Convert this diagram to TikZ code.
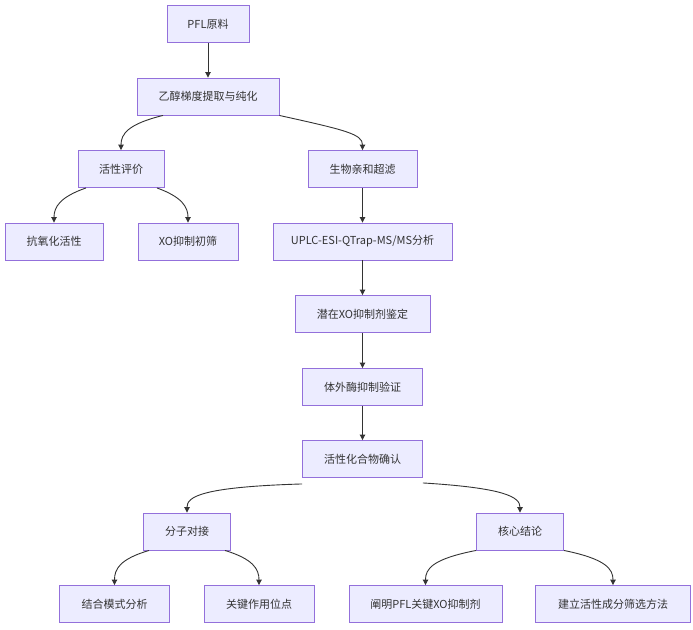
\documentclass[tikz,border=0pt]{standalone}
\usepackage{fontspec}
\setmainfont{Noto Sans CJK SC}
\usetikzlibrary{arrows.meta}
\definecolor{boxfill}{HTML}{ECECFF}
\definecolor{boxline}{HTML}{9370DB}
\definecolor{edgeline}{HTML}{333333}
\tikzset{
  stepbox/.style={draw=boxline,fill=boxfill,line width=0.9pt,inner sep=0pt,
    minimum height=37pt,font=\fontsize{11}{13}\selectfont,text=edgeline},
  flow/.style={edgeline,line width=0.9pt,-{Triangle[length=5.5pt,width=5.5pt]}}
}
\begin{document}
\begin{tikzpicture}[x=1pt,y=-1pt]
\useasboundingbox (0,0) rectangle (693,629);
\node [stepbox,minimum width=82pt] (raw) at (208,24) {PFL原料};
\node [stepbox,minimum width=142pt] (ext) at (208,96.5) {乙醇梯度提取与纯化};
\node [stepbox,minimum width=86pt] (evalb) at (121,169) {活性评价};
\node [stepbox,minimum width=109pt] (ultra) at (362.5,169) {生物亲和超滤};
\node [stepbox,minimum width=98pt] (anti) at (54,241.5) {抗氧化活性};
\node [stepbox,minimum width=100pt] (xoscr) at (188,241.5) {XO抑制初筛};
\node [stepbox,minimum width=179pt] (uplc) at (362.5,241.5) {UPLC-ESI-QTrap-MS/MS分析};
\node [stepbox,minimum width=135pt] (ident) at (362.5,314) {潜在XO抑制剂鉴定};
\node [stepbox,minimum width=120pt] (vitro) at (362.5,387) {体外酶抑制验证};
\node [stepbox,minimum width=120pt] (active) at (362.5,459) {活性化合物确认};
\node [stepbox,minimum width=87pt] (dock) at (187,531.5) {分子对接};
\node [stepbox,minimum width=87pt] (concl) at (520,531.5) {核心结论};
\node [stepbox,minimum width=110pt] (mode) at (114.5,604) {结合模式分析};
\node [stepbox,minimum width=110pt] (site) at (259,604) {关键作用位点};
\node [stepbox,minimum width=153pt] (clar) at (425.5,604) {阐明PFL关键XO抑制剂};
\node [stepbox,minimum width=155pt] (method) at (613,604) {建立活性成分筛选方法};
\draw [flow] (raw) -- (ext);
\draw [flow] ([xshift=-45pt]ext.south) .. controls (128,124) and (121,134) .. (evalb.north);
\draw [flow] (ext.south east) .. controls (345,130) and (362.5,134) .. (ultra.north);
\draw [flow] ([xshift=-35pt]evalb.south) .. controls (60,197) and (54,207) .. (anti.north);
\draw [flow] ([xshift=36pt]evalb.south) .. controls (182,197) and (188,207) .. (xoscr.north);
\draw [flow] (ultra) -- (uplc);
\draw [flow] (uplc) -- (ident);
\draw [flow] (ident) -- (vitro);
\draw [flow] (vitro) -- (active);
\draw [flow] ([yshift=-6pt]active.south west) .. controls (200,487) and (187,497) .. (dock.north);
\draw [flow] ([yshift=-5pt]active.south east) .. controls (505,488) and (520,497) .. (concl.north);
\draw [flow] ([xshift=-38pt]dock.south) .. controls (120,559) and (114.5,569) .. (mode.north);
\draw [flow] ([xshift=38pt]dock.south) .. controls (253,559) and (259,569) .. (site.north);
\draw [flow] (concl.south west) .. controls (432,559) and (425.5,569) .. (clar.north);
\draw [flow] (concl.south east) .. controls (606,559) and (613,569) .. (method.north);
\end{tikzpicture}
\end{document}
